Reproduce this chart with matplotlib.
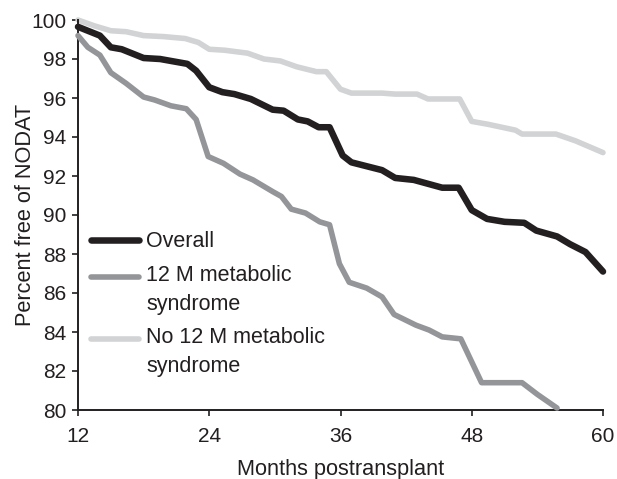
import numpy as np
import matplotlib
matplotlib.use("Agg")
import matplotlib.pyplot as plt
from matplotlib.legend_handler import HandlerLine2D

plt.rcParams['font.family'] = ['Liberation Sans', 'DejaVu Sans']

# survival curves (months postransplant, percent free of NODAT)
overall_months = [12, 14, 15, 16, 18, 19.5, 22, 22.8, 24, 25.2, 26.3, 27.8, 29.8, 30.8,
                  32.1, 33, 34, 35, 36.2, 37, 39.8, 41, 42.7, 44, 45.3, 46.8, 48, 49.4,
                  51, 52.8, 53.9, 55.8, 57, 58.4, 60]
overall_pct = [99.65, 99.2, 98.6, 98.5, 98.05, 98.0, 97.75, 97.4, 96.55, 96.3, 96.2, 95.95,
               95.4, 95.35, 94.9, 94.8, 94.5, 94.5, 93.05, 92.7, 92.3, 91.9, 91.8, 91.6,
               91.4, 91.4, 90.25, 89.8, 89.65, 89.6, 89.2, 88.9, 88.5, 88.1, 87.1]

ms_months = [12, 12.9, 14, 15, 16.4, 18, 19, 20.5, 21.9, 22.8, 23.9, 25.3, 26.8, 28, 29.8,
             30.6, 31.5, 32.8, 34.1, 35, 35.9, 36.8, 38.4, 39.8, 40.9, 42.9, 44.1, 45.3,
             47, 48.9, 52.6, 54, 55.8]
ms_pct = [99.2, 98.6, 98.2, 97.3, 96.75, 96.05, 95.9, 95.6, 95.45, 94.9, 93.0, 92.65, 92.1,
          91.8, 91.2, 90.95, 90.3, 90.1, 89.65, 89.5, 87.5, 86.55, 86.25, 85.8, 84.9, 84.35,
          84.1, 83.75, 83.65, 81.4, 81.4, 80.8, 80.1]

no_ms_months = [12, 13.5, 15, 16.4, 18, 19.8, 21.8, 23, 24, 25.4, 27.5, 29, 30.5, 32, 33.8,
                34.7, 36, 37, 39.8, 41, 43, 44, 46.9, 48, 49.5, 52, 52.6, 55.7, 57.5, 60]
no_ms_pct = [100.0, 99.7, 99.45, 99.4, 99.2, 99.15, 99.05, 98.85, 98.5, 98.45, 98.3, 98.0,
             97.9, 97.6, 97.35, 97.35, 96.45, 96.25, 96.25, 96.2, 96.2, 95.95, 95.95, 94.8,
             94.65, 94.35, 94.15, 94.15, 93.8, 93.2]

labels = ["Overall", "12 M metabolic\nsyndrome", "No 12 M metabolic\nsyndrome"]
x_ticks = [12, 24, 36, 48, 60]
y_ticks = list(range(80, 101, 2))

TICK_FS = 15
LABEL_FS = 15.7
LEG_FS = 15.5
LINE_SP = 1.5


class TopLineHandler(HandlerLine2D):
    # put the legend line next to the first text line, not in the middle
    def create_artists(self, legend, orig_handle, xdescent, ydescent, width, height,
                       fontsize, trans):
        arts = super().create_artists(legend, orig_handle, xdescent, ydescent, width,
                                      height, fontsize, trans)
        n_lines = orig_handle.get_label().count("\n")
        for a in arts:
            a.set_ydata(np.asarray(a.get_ydata()) + n_lines * fontsize * 0.64)
        return arts


fig = plt.figure(figsize=(6.17, 4.79), dpi=100)
ax = fig.add_axes([78 / 617, 1 - 410 / 479, 525 / 617, 390 / 479])

line_kw = dict(solid_capstyle='round', solid_joinstyle='round', clip_on=False)
h1, = ax.plot(overall_months, overall_pct, color='#231f20', linewidth=4.7, label=labels[0], zorder=4, **line_kw)
h2, = ax.plot(ms_months, ms_pct, color='#939598', linewidth=4.0, label=labels[1], zorder=3, **line_kw)
h3, = ax.plot(no_ms_months, no_ms_pct, color='#d1d3d4', linewidth=4.0, label=labels[2], zorder=2, **line_kw)

ax.set_xlim(12, 60)
ax.set_ylim(80, 100)
ax.set_xticks(x_ticks)
ax.set_yticks(y_ticks)
for side in ['top', 'right']:
    ax.spines[side].set_visible(False)
for side in ['left', 'bottom']:
    ax.spines[side].set_linewidth(1.4)
    ax.spines[side].set_color('#231f20')
ax.tick_params(direction='out', length=4.3, width=1.2, labelsize=TICK_FS, colors='#231f20')
ax.tick_params(axis='x', pad=8)
ax.tick_params(axis='y', pad=4.3)
ax.set_xlabel("Months postransplant", fontsize=LABEL_FS, labelpad=9, color='#231f20')
ax.set_ylabel("Percent free of NODAT", fontsize=LABEL_FS, color='#231f20')
ax.yaxis.set_label_coords(-42 / 525, 0.5)

leg = ax.legend(handles=[h1, h2, h3], loc='upper left', bbox_to_anchor=(13 / 525, 0.458),
                frameon=False, fontsize=LEG_FS, handlelength=2.23, handletextpad=0.33,
                labelspacing=0.58, borderaxespad=0, borderpad=0,
                handler_map={matplotlib.lines.Line2D: TopLineHandler()})
for t in leg.get_texts():
    t.set_linespacing(LINE_SP)
    t.set_color('#231f20')

fig.savefig("out.png", dpi=100)
